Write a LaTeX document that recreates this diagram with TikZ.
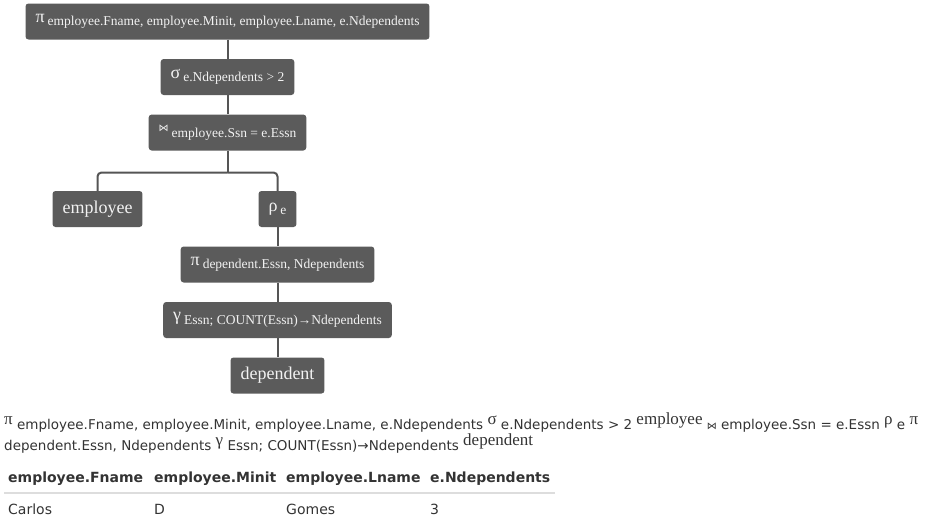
\documentclass[tikz,border=0pt]{standalone}
\usepackage{fontspec}
\setmainfont{Liberation Serif}
\newfontfamily\dejavu{DejaVu Sans}
\usetikzlibrary{positioning}

\definecolor{opgray}{HTML}{5B5B5B}
\definecolor{wiregray}{HTML}{555555}
\definecolor{optext}{HTML}{F2F2F2}
\definecolor{bodytext}{HTML}{333333}
\definecolor{rulegray}{HTML}{DDDDDD}

% operator box text: symbol plus lowered subscript
\newcommand\opsub[2]{#1\,\raisebox{-3.5pt}{\fontsize{13.5}{15}\selectfont #2}}
% serif symbol inside the flat sans line
\newcommand\flatsym[1]{\raisebox{4.5pt}{\rmfamily\fontsize{17}{19}\selectfont #1}}

\begin{document}
\begin{tikzpicture}[x=1pt,y=-1pt,node distance=55.5pt,
  op node/.style={fill=opgray,text=optext,rounded corners=3pt,inner xsep=10pt,
    minimum height=36pt,font=\rmfamily\fontsize{18}{20}\selectfont},
  wire/.style={draw=wiregray,line width=2pt},
  flat text/.style={anchor=base west,inner sep=0pt,text=bodytext,
    font=\dejavu\fontsize{13.5}{16}\selectfont},
  head/.style={anchor=base west,inner sep=0pt,text=bodytext,
    font=\dejavu\bfseries\fontsize{14}{16}\selectfont},
  cell/.style={anchor=base west,inner sep=0pt,text=bodytext,
    font=\dejavu\fontsize{14}{16}\selectfont}]

  \useasboundingbox (0,0) rectangle (929,523);

  % the query tree
  \node[op node] (proj) at (227.5,21.5) {\opsub{π}{employee.Fname, employee.Minit, employee.Lname, e.Ndependents}};
  \node[op node] (sel)  [below of=proj] {\opsub{σ}{e.Ndependents > 2}};
  \node[op node] (join) [below of=sel] {\opsub{{\dejavu\fontsize{10}{12}\selectfont\raisebox{2pt}{⋈}}}{employee.Ssn = e.Essn}};

  \node[op node] (emp)  [below of=join, node distance=76.5pt, xshift=-130pt] {employee};
  \node[op node] (ren)  [below of=join, node distance=76.5pt, xshift=50pt] {\opsub{ρ}{e}};
  \node[op node] (dproj) [below of=ren] {\opsub{π}{dependent.Essn, Ndependents}};
  \node[op node] (grp)  [below of=dproj] {\opsub{γ}{Essn; COUNT(Essn)→Ndependents}};
  \node[op node] (dep)  [below of=grp] {dependent};

  \coordinate (fork) at (227.5,172.5);

  \path[wire]
    (proj) edge (sel)
    (sel) edge (join)
    (join) edge (fork)
    (ren) edge (dproj)
    (dproj) edge (grp)
    (grp) edge (dep);
  \draw[wire,rounded corners=4pt] (fork) -| (emp);
  \draw[wire,rounded corners=4pt] (fork) -| (ren);

  % the same expression written flat
  \node[flat text] (line1) at (4,429) {\flatsym{π} employee.Fname, employee.Minit, employee.Lname, e.Ndependents \flatsym{σ} e.Ndependents > 2 \flatsym{employee} {\fontsize{10}{12}\selectfont ⋈} employee.Ssn = e.Essn \flatsym{ρ} e \flatsym{π}};
  \node[flat text] (line2) at (4,450) {dependent.Essn, Ndependents \flatsym{γ} Essn; COUNT(Essn)→Ndependents \flatsym{dependent}};

  % result table
  \node[head] (h1) at (8,482) {employee.Fname};
  \node[head] (h2) at (154,482) {employee.Minit};
  \node[head] (h3) at (286,482) {employee.Lname};
  \node[head] (h4) at (430,482) {e.Ndependents};
  \draw[rulegray,line width=2pt] (4,492.5) -- (555,492.5);
  \node[cell] (c1) at (8,514) {Carlos};
  \node[cell] (c2) at (154,514) {D};
  \node[cell] (c3) at (286,514) {Gomes};
  \node[cell] (c4) at (430,514) {3};
\end{tikzpicture}
\end{document}
